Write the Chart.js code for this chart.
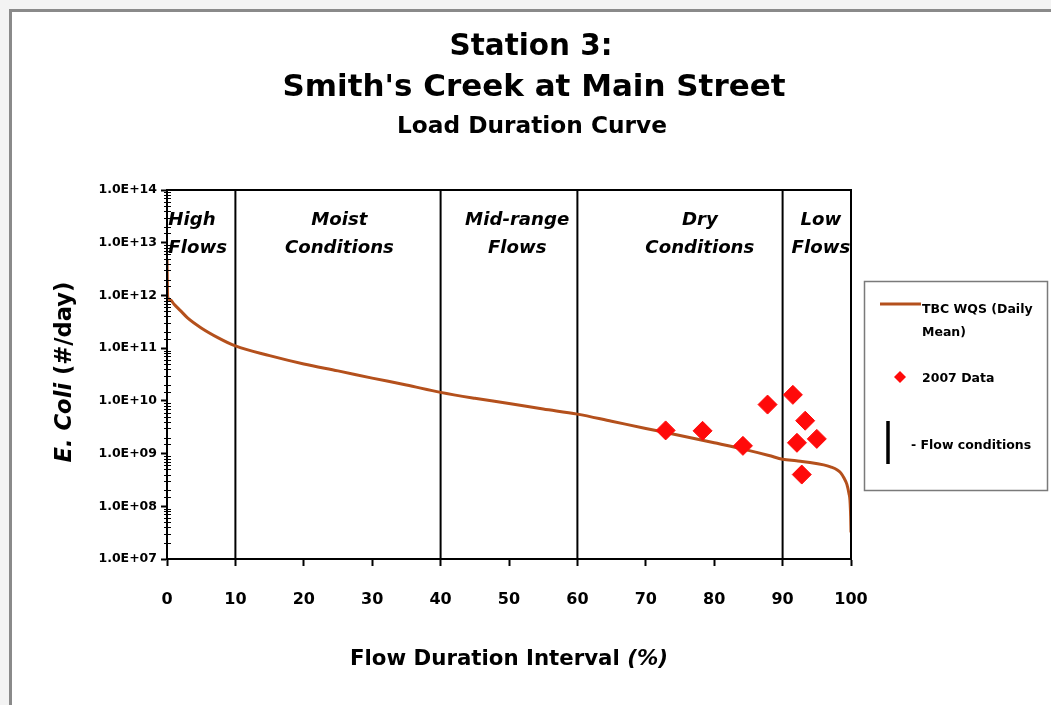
<!DOCTYPE html>
<html>
<head>
<meta charset="utf-8">
<script src="https://cdn.jsdelivr.net/npm/chart.js@4.4.1/dist/chart.umd.min.js"></script>
<style>
html,body{margin:0;padding:0;background:#fff;}
#wrap{width:1051px;height:705px;}
canvas{display:block;}
</style>
</head>
<body>
<div id="wrap"><canvas id="c" width="1051" height="705"></canvas></div>
<script>
// ---------- data ----------
const titleLine1 = "Station 3:";
const titleLine2 = "Smith's Creek at Main Street";
const subtitleText = "Load Duration Curve";
const xTitleMain = "Flow Duration Interval ";
const xTitleItalic = "(%)";
const yTitleItalic = "E. Coli";
const yTitleMain = " (#/day)";

const xTickValues = [0, 10, 20, 30, 40, 50, 60, 70, 80, 90, 100];
const yTickExponents = [7, 8, 9, 10, 11, 12, 13, 14];
const yTickLabels = ['1.0E+07', '1.0E+08', '1.0E+09', '1.0E+10', '1.0E+11', '1.0E+12', '1.0E+13', '1.0E+14'];

// TBC WQS (Daily Mean) load duration curve
const curveX = [0, 0.1, 0.5, 1, 2, 3, 5, 7.5, 10, 15, 20, 25, 30, 35, 40, 45, 50, 55, 60, 65, 70, 75, 80, 85, 88, 90, 92, 94, 96, 97, 98, 98.5, 99, 99.4, 99.7, 99.85, 99.95, 100];
const curveY = [4.7e12, 9.4e11, 8.2e11, 6.9e11, 5.1e11, 3.75e11, 2.42e11, 1.57e11, 1.1e11, 7.2e10, 5.0e10, 3.7e10, 2.7e10, 2.0e10, 1.45e10, 1.12e10, 8.9e9, 7.0e9, 5.6e9, 4.1e9, 3.0e9, 2.2e9, 1.6e9, 1.15e9, 9.2e8, 7.8e8, 7.3e8, 6.8e8, 6.1e8, 5.6e8, 4.9e8, 4.3e8, 3.4e8, 2.6e8, 1.75e8, 1.3e8, 6.5e7, 3.2e7];

// 2007 Data
const sampleX = [72.9, 78.3, 84.2, 87.8, 91.5, 93.3, 92.1, 95.0, 92.8];
const sampleY = [2.75e9, 2.7e9, 1.4e9, 8.5e9, 1.3e10, 4.2e9, 1.6e9, 1.9e9, 4.0e8];

// Flow condition boundaries and zone names
const flowBoundaries = [10, 40, 60, 90];
const zoneLine1 = ['High', 'Moist', 'Mid-range', 'Dry', 'Low'];
const zoneLine2 = ['Flows', 'Conditions', 'Flows', 'Conditions', 'Flows'];
const zoneLabelAt = [0.2, 25.2, 51.2, 77.9, 95.6];

const legendNames = ['TBC WQS (Daily', 'Mean)', '2007 Data', '- Flow conditions'];

// ---------- style ----------
const FONT = '"DejaVu Sans", sans-serif';
const BROWN = '#b4501c';
const RED = '#ff0a0a';
const Y_MIN = Math.pow(10, yTickExponents[0]);
const Y_MAX = Math.pow(10, yTickExponents[yTickExponents.length - 1]);

Chart.defaults.font.family = FONT;

function fontStr(size, italic) {
  return (italic ? 'italic ' : '') + 'bold ' + size.toFixed(2) + 'px ' + FONT;
}
function fitSize(ctx, parts, target) {
  let w = 0;
  parts.forEach(p => { ctx.font = fontStr(100, p.i); w += ctx.measureText(p.t).width; });
  return 100 * target / w;
}
function drawParts(ctx, parts, size, cx, y) {
  let w = 0;
  parts.forEach(p => { ctx.font = fontStr(size, p.i); w += ctx.measureText(p.t).width; });
  let x = cx - w / 2;
  ctx.textAlign = 'left';
  parts.forEach(p => { ctx.font = fontStr(size, p.i); ctx.fillText(p.t, x, y); x += ctx.measureText(p.t).width; });
}

const framePlugin = {
  id: 'frame',
  beforeDraw(chart) {
    const ctx = chart.ctx;
    ctx.save();
    ctx.fillStyle = '#f3f3f3';
    ctx.fillRect(0, 0, chart.width, chart.height);
    ctx.fillStyle = '#ffffff';
    ctx.fillRect(11, 11, chart.width, chart.height);
    ctx.strokeStyle = '#8a8a8a';
    ctx.lineWidth = 3;
    ctx.strokeRect(10.5, 10.5, chart.width + 20, chart.height + 20);
    ctx.restore();
  }
};

const overlayPlugin = {
  id: 'overlay',
  afterDraw(chart) {
    const ctx = chart.ctx;
    const a = chart.chartArea;
    const xs = chart.scales.x, ys = chart.scales.y;
    ctx.save();
    // plot box
    ctx.strokeStyle = '#000';
    ctx.lineWidth = 2;
    ctx.strokeRect(a.left, a.top, a.right - a.left, a.bottom - a.top);
    // minor ticks on log axis
    ctx.lineWidth = 1;
    ys.ticks.forEach(t => {
      if (t.major) return;
      const y = Math.round(ys.getPixelForValue(t.value)) + 0.5;
      ctx.beginPath();
      ctx.moveTo(a.left - 3, y);
      ctx.lineTo(a.left + 4, y);
      ctx.stroke();
    });
    ctx.fillStyle = '#000';
    ctx.textBaseline = 'alphabetic';
    // zone labels
    const zs = fitSize(ctx, [{t: 'Conditions', i: true}], 109);
    ctx.font = fontStr(zs, true);
    zoneLine1.forEach((n, k) => {
      const px = xs.getPixelForValue(zoneLabelAt[k]);
      ctx.textAlign = k === 0 ? 'left' : 'center';
      ctx.fillText(n, px, 225);
      ctx.fillText(zoneLine2[k], px, 253);
    });
    // titles
    const s1 = fitSize(ctx, [{t: titleLine1}], 163);
    drawParts(ctx, [{t: titleLine1}], s1, 531, 55);
    const s2 = fitSize(ctx, [{t: titleLine2}], 503);
    drawParts(ctx, [{t: titleLine2}], s2, 534, 96);
    const s3 = fitSize(ctx, [{t: subtitleText}], 270);
    drawParts(ctx, [{t: subtitleText}], s3, 532, 133);
    // x axis title
    const xp = [{t: xTitleMain}, {t: xTitleItalic, i: true}];
    drawParts(ctx, xp, fitSize(ctx, xp, 318), 509, 665);
    // y axis title
    const yp = [{t: yTitleItalic, i: true}, {t: yTitleMain}];
    const ysz = fitSize(ctx, yp, 181);
    ctx.save();
    ctx.translate(71, 372);
    ctx.rotate(-Math.PI / 2);
    drawParts(ctx, yp, ysz, 0, 0);
    ctx.restore();
    // legend
    ctx.strokeStyle = '#7a7a7a';
    ctx.lineWidth = 1.5;
    ctx.strokeRect(864.5, 281.5, 183, 209);
    ctx.strokeStyle = BROWN;
    ctx.lineWidth = 3;
    ctx.beginPath(); ctx.moveTo(880, 304); ctx.lineTo(921, 304); ctx.stroke();
    ctx.fillStyle = RED;
    ctx.beginPath();
    ctx.moveTo(900, 371); ctx.lineTo(906, 377); ctx.lineTo(900, 383); ctx.lineTo(894, 377); ctx.closePath(); ctx.fill();
    ctx.strokeStyle = '#000';
    ctx.lineWidth = 3.5;
    ctx.beginPath(); ctx.moveTo(888, 421); ctx.lineTo(888, 464); ctx.stroke();
    ctx.fillStyle = '#000';
    ctx.textAlign = 'left';
    ctx.font = fontStr(12.5, false);
    ctx.fillText(legendNames[0], 922, 313);
    ctx.fillText(legendNames[1], 922, 336);
    ctx.fillText(legendNames[2], 922, 382);
    ctx.fillText(legendNames[3], 911, 449);
    ctx.restore();
  }
};

const datasets = [
  {
    label: 'TBC WQS (Daily Mean)',
    data: curveX.map((x, i) => ({x: x, y: curveY[i]})),
    borderColor: BROWN,
    backgroundColor: BROWN,
    borderWidth: 3,
    pointRadius: 0,
    cubicInterpolationMode: 'monotone',
    fill: false,
    order: 1
  },
  {
    label: '2007 Data',
    type: 'scatter',
    data: sampleX.map((x, i) => ({x: x, y: sampleY[i]})),
    pointStyle: 'rectRot',
    pointRadius: 9.5,
    backgroundColor: RED,
    borderColor: RED,
    borderWidth: 1,
    order: 0
  }
].concat(flowBoundaries.map(b => ({
  label: 'Flow conditions',
  data: [{x: b, y: Y_MIN}, {x: b, y: Y_MAX}],
  borderColor: '#000',
  borderWidth: 2,
  pointRadius: 0,
  fill: false,
  order: 2
})));

new Chart(document.getElementById('c'), {
  type: 'line',
  data: {datasets: datasets},
  options: {
    responsive: false,
    animation: false,
    devicePixelRatio: 1,
    layout: {padding: {left: 0, top: 190, right: 200, bottom: 0}},
    plugins: {legend: {display: false}, tooltip: {enabled: false}, title: {display: false}},
    scales: {
      x: {
        type: 'linear',
        min: xTickValues[0],
        max: xTickValues[xTickValues.length - 1],
        afterBuildTicks: s => { s.ticks = xTickValues.map(v => ({value: v})); },
        ticks: {color: '#000', font: {size: 16, weight: 'bold'}, padding: 24, autoSkip: false},
        grid: {drawOnChartArea: false, drawTicks: true, tickLength: 7, tickWidth: 2, tickColor: '#000'},
        border: {display: true, color: '#000', width: 2},
        afterFit: s => { s.height = 146; }
      },
      y: {
        type: 'logarithmic',
        min: Y_MIN,
        max: Y_MAX,
        ticks: {
          color: '#000', font: {size: 12.5, weight: 'bold'}, padding: 4, autoSkip: false,
          callback: function (v) {
            const e = Math.log10(v);
            const k = yTickExponents.indexOf(Math.round(e));
            return (Math.abs(e - Math.round(e)) < 1e-9 && k >= 0) ? yTickLabels[k] : '';
          }
        },
        grid: {
          drawOnChartArea: false, drawTicks: true, tickLength: 6, tickWidth: 2,
          tickColor: c => (c.tick && c.tick.major) ? '#000' : 'rgba(0,0,0,0)'
        },
        border: {display: true, color: '#000', width: 2},
        afterFit: s => { s.width = 167; }
      }
    }
  },
  plugins: [framePlugin, overlayPlugin]
});
</script>
</body>
</html>
